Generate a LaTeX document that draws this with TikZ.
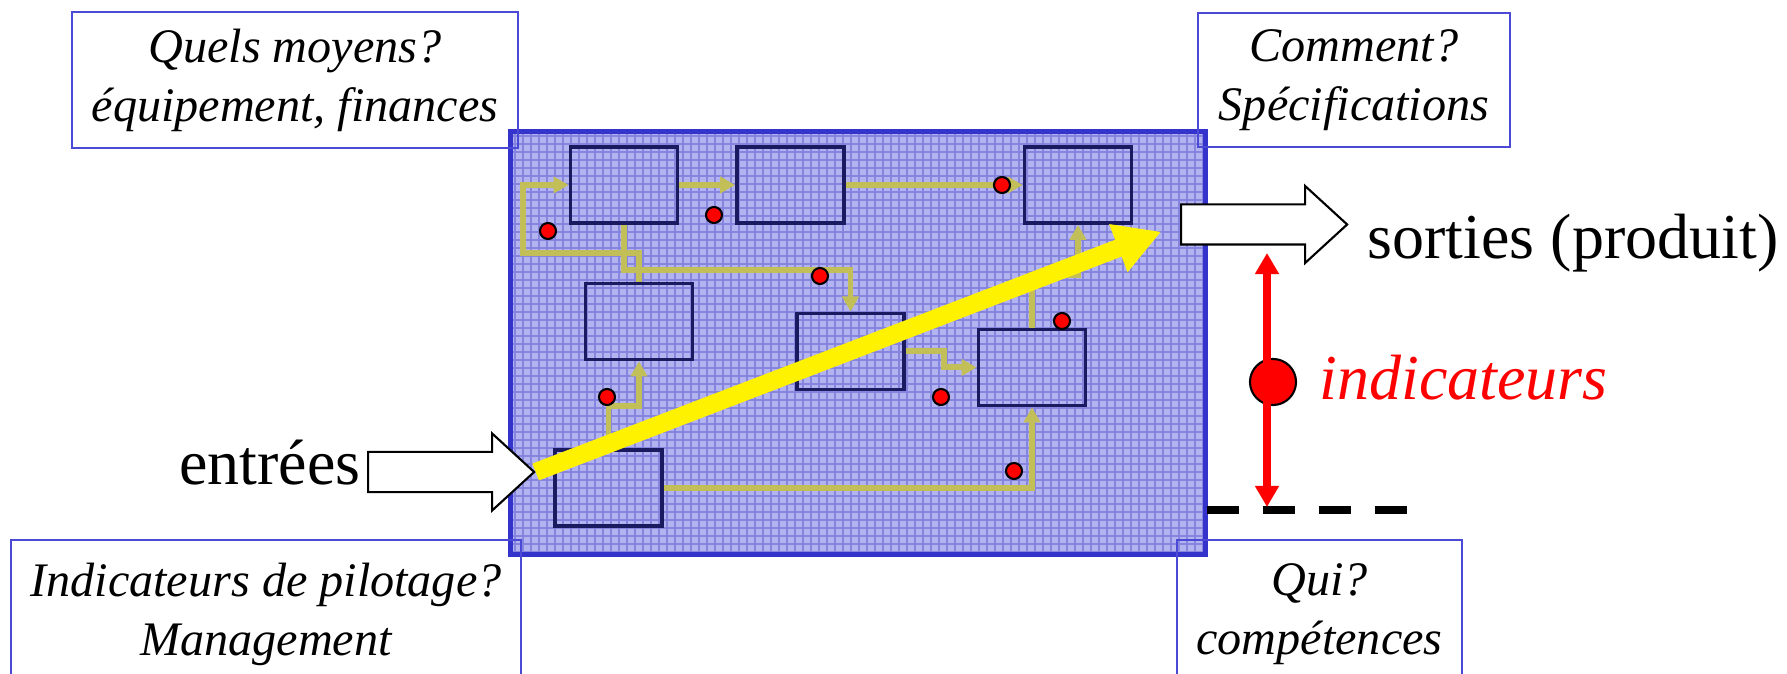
\documentclass[tikz,border=0pt]{standalone}
\usepackage{fontspec}
\setmainfont{Liberation Serif}
\usetikzlibrary{arrows.meta,shapes.arrows,positioning}
\definecolor{frameblue}{HTML}{3434CC}
\definecolor{noteblue}{HTML}{4A4AD6}
\definecolor{procfill}{HTML}{B3B3EF}
\definecolor{procgrid}{HTML}{8585E0}
\definecolor{stepnavy}{HTML}{1A1A60}
\definecolor{flowolive}{HTML}{C2BF58}
\newcommand{\notefont}{\fontsize{13.7}{16.8}\selectfont\itshape}
\newcommand{\labelfont}{\fontsize{18.2}{22}\selectfont}

\begin{document}
\begin{tikzpicture}[x=0.01cm, y=-0.01cm,
  note/.style={draw=noteblue, line width=0.6pt, align=center, inner sep=0pt, font=\notefont},
  stepbox/.style={draw=stepnavy, line width=1.05pt, minimum width=1.07cm, minimum height=0.76cm, inner sep=0pt},
  flow/.style={draw=flowolive, line width=1.7pt, -{Triangle[width=4.6pt,length=4.3pt]}},
  reddot/.style={circle, fill=red, draw=black, line width=0.6pt, minimum size=0.16cm, inner sep=0pt},
  blockarrow/.style={single arrow, draw=black, fill=white, line width=0.6pt, minimum height=1.66cm, minimum width=0.75cm, single arrow head extend=0.185cm, single arrow tip angle=85, inner xsep=0pt, inner ysep=0.19cm, anchor=tail}]
  \useasboundingbox (0,0) rectangle (1787,674);
  % Process area
  \node[fill=procfill, minimum width=6.94cm, minimum height=4.22cm, inner sep=0pt] (proc) at (858,343) {};
  \begin{scope}
    \clip (proc.north west) rectangle (proc.south east);
    \foreach \x in {515,523,...,1203} \draw[procgrid, line width=0.3pt] (\x,132) -- (\x,554);
    \foreach \y in {136,144,...,552} \draw[procgrid, line width=0.3pt] (511,\y) -- (1205,\y);
  \end{scope}
  \draw[frameblue, line width=1.4pt] (proc.north west) rectangle (proc.south east);
  % Question boxes
  \node[note, minimum width=4.46cm, minimum height=1.36cm] (means) at (295,80) {Quels moyens?\\équipement, finances};
  \node[note, minimum width=3.12cm, minimum height=1.34cm] (specs) at (1354,80) {Comment?\\Spécifications};
  \node[note, minimum width=5.10cm, minimum height=1.49cm] (steer) at (266,614.5) {Indicateurs de pilotage?\\Management};
  \node[note, minimum width=2.85cm, minimum height=1.49cm] (who) at (1319.5,614.5) {Qui?\\compétences};
  % Process steps
  \node[stepbox] (a) at (624,185) {};
  \node[stepbox] (b) at (790.5,185) {};
  \node[stepbox] (c) at (1078,185) {};
  \node[stepbox] (d) at (639,321.5) {};
  \node[stepbox] (e) at (850.5,351.5) {};
  \node[stepbox] (f) at (1032,367.5) {};
  \node[stepbox] (g) at (608.5,488) {};
  % Flows between steps
  \draw[flow] (a.east) -- (b.west);
  \draw[flow] (b.east) -- (c.west);
  \draw[flow] (d.north) |- (523,253) |- (a.west);
  \draw[flow] (a.south) -- ++(0,45) -| (e.north);
  \draw[flow] (e.east) -- ++(38,0) |- (f.west);
  \draw[flow] (f.north) -- ++(0,-53) -| (c.south);
  \draw[flow] (g.east) -| (f.south);
  \draw[flow] (g.north) -- ++(0,-42) -| (d.south);
  % Measurement points
  \foreach \p [count=\i] in {(548,231),(714,215),(820,276),(1002,185),(1062,321),(607,397),(941,397),(1014,471)}
    \node[reddot] (dot\i) at \p {};
  % Inputs and outputs
  \node[blockarrow] (inarrow) at (367,472) {};
  \node[blockarrow] (outarrow) at (1180,224.5) {};
  \node[font=\labelfont, anchor=base east, inner sep=0pt] (inputs) at (361,485) {entrées};
  \node[font=\labelfont, anchor=base west, inner sep=0pt] (outputs) at (1367,259) {sorties (produit)};
  \draw[yellow, line width=0.18cm, -{Triangle[width=0.48cm,length=0.46cm]}, shorten >=0.2cm] (inarrow.tip) -- (outarrow.tail);
  % Indicators
  \coordinate (indtop) at (1267,253);
  \coordinate (indbot) at (1267,507);
  \coordinate (baseL) at (1207,510);
  \coordinate (baseR) at (1409,510);
  \draw[line width=2pt, dash pattern=on 9.1pt off 6.8pt] (baseL) -- (baseR);
  \node[circle, fill=red, draw=black, line width=0.6pt, minimum size=0.46cm, inner sep=0pt] (inddot) at (1273,382) {};
  \draw[red, line width=2pt, {Triangle[width=6.5pt,length=6pt]}-{Triangle[width=6.5pt,length=6pt]}] (indtop) -- (indbot);
  \node[font=\labelfont\itshape, text=red, anchor=base west, inner sep=0pt] (indic) at (1319,400) {indicateurs};
\end{tikzpicture}
\end{document}
